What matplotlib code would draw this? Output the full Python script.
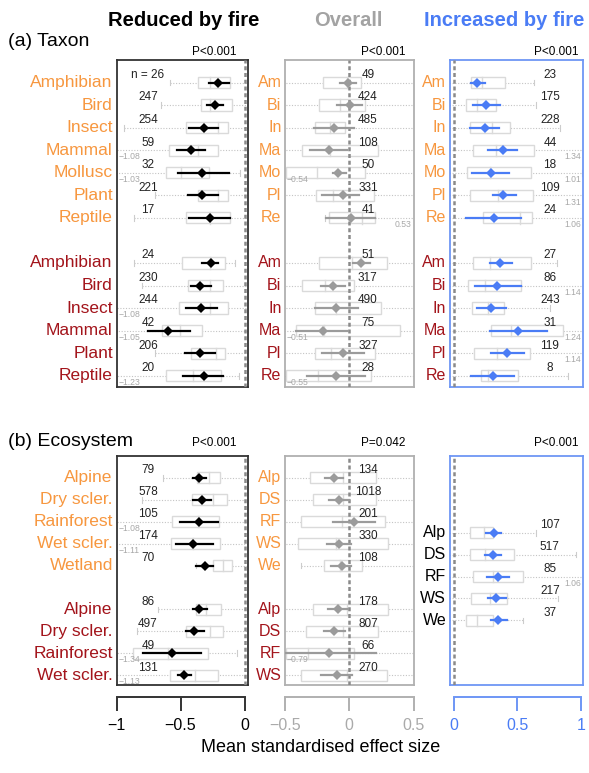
import matplotlib.pyplot as plt
from matplotlib.patches import Rectangle

plt.rcParams["font.family"] = ["Liberation Sans", "DejaVu Sans"]

W, H = 589, 773

# row labels
taxa = ["Amphibian", "Bird", "Insect", "Mammal", "Mollusc", "Plant", "Reptile",
        "Amphibian", "Bird", "Insect", "Mammal", "Plant", "Reptile"]
taxa_short = ["Am", "Bi", "In", "Ma", "Mo", "Pl", "Re",
              "Am", "Bi", "In", "Ma", "Pl", "Re"]
eco = ["Alpine", "Dry scler.", "Rainforest", "Wet scler.", "Wetland",
       "Alpine", "Dry scler.", "Rainforest", "Wet scler."]
eco_short = ["Alp", "DS", "RF", "WS", "We", "Alp", "DS", "RF", "WS"]
eco_short_inc = ["Alp", "DS", "RF", "WS", "We"]

# row positions (top to bottom)
taxa_y = [1, 2, 3, 4, 5, 6, 7, 9, 10, 11, 12, 13, 14]
eco_y = [1, 2, 3, 4, 5, 7, 8, 9, 10]
eco_inc_y = [3.5, 4.5, 5.5, 6.5, 7.5]
taxa_grp = [0] * 7 + [1] * 6
eco_grp = [0] * 5 + [1] * 4

# rows: (mean, ci_lo, ci_hi, q1, median, q3, whisker_lo, whisker_hi, n)
taxon_reduced = [
    (-0.21, -0.275, -0.12, -0.365, -0.27, -0.115, -0.58, 0.10, 26),
    (-0.23, -0.295, -0.17, -0.34, -0.27, -0.095, -0.65, 0.10, 247),
    (-0.32, -0.43, -0.205, -0.46, -0.21, -0.13, -0.94, 0.10, 254),
    (-0.42, -0.53, -0.31, -0.59, -0.36, -0.205, -1.08, 0.10, 59),
    (-0.33, -0.52, -0.125, -0.615, -0.50, -0.275, -1.03, -0.035, 32),
    (-0.33, -0.44, -0.21, -0.365, -0.21, -0.13, -0.70, 0.10, 221),
    (-0.27, -0.43, -0.11, -0.46, -0.27, -0.11, -0.86, 0.10, 17),
    (-0.265, -0.33, -0.205, -0.49, -0.27, -0.15, -0.86, -0.075, 24),
    (-0.35, -0.42, -0.265, -0.445, -0.27, -0.17, -0.80, 0.10, 230),
    (-0.34, -0.46, -0.215, -0.515, -0.27, -0.13, -1.08, 0.10, 244),
    (-0.595, -0.755, -0.425, -0.645, -0.505, -0.33, -1.05, 0.10, 42),
    (-0.35, -0.465, -0.23, -0.42, -0.225, -0.15, -0.70, 0.10, 206),
    (-0.32, -0.48, -0.165, -0.61, -0.405, -0.185, -1.23, -0.045, 20),
]
taxon_overall = [
    (-0.01, -0.075, 0.05, -0.205, -0.02, 0.095, -0.6, 0.6, 49),
    (0.003, -0.095, 0.10, -0.235, -0.075, 0.12, -0.6, 0.6, 424),
    (-0.12, -0.275, 0.04, -0.27, -0.15, -0.03, -0.6, 0.6, 485),
    (-0.16, -0.305, -0.015, -0.365, -0.15, 0.225, -0.6, 0.6, 108),
    (-0.09, -0.13, -0.025, -0.49, -0.25, 0.125, -0.54, 0.6, 50),
    (-0.05, -0.21, 0.075, -0.26, -0.13, 0.19, -0.6, 0.6, 331),
    (0.01, -0.18, 0.20, -0.16, 0.10, 0.20, -0.19, 0.53, 41),
    (0.09, 0.03, 0.16, -0.235, 0.025, 0.295, -0.6, 0.6, 51),
    (-0.13, -0.22, -0.035, -0.365, -0.185, 0.035, -0.6, 0.6, 317),
    (-0.10, -0.27, 0.07, -0.27, -0.10, 0.25, -0.6, 0.6, 490),
    (-0.205, -0.415, -0.01, -0.415, -0.20, 0.395, -0.51, 0.6, 75),
    (-0.05, -0.21, 0.115, -0.27, -0.14, 0.20, -0.6, 0.6, 327),
    (-0.10, -0.33, 0.12, -0.49, -0.24, 0.17, -0.55, 0.6, 28),
]
taxon_increased = [
    (0.185, 0.135, 0.245, 0.135, 0.22, 0.40, -0.1, 0.63, 23),
    (0.255, 0.15, 0.36, 0.095, 0.18, 0.33, -0.1, 0.645, 175),
    (0.245, 0.125, 0.355, 0.125, 0.30, 0.44, -0.1, 0.835, 228),
    (0.385, 0.265, 0.495, 0.15, 0.33, 0.63, -0.1, 1.34, 44),
    (0.29, 0.145, 0.435, 0.105, 0.285, 0.61, -0.1, 1.01, 18),
    (0.39, 0.31, 0.49, 0.125, 0.35, 0.62, -0.1, 1.31, 109),
    (0.315, 0.095, 0.53, 0.225, 0.52, 0.615, -0.1, 1.06, 24),
    (0.365, 0.28, 0.46, 0.15, 0.285, 0.605, -0.1, 0.81, 27),
    (0.34, 0.165, 0.53, 0.11, 0.245, 0.525, -0.1, 1.14, 86),
    (0.29, 0.18, 0.41, 0.145, 0.27, 0.395, -0.1, 0.76, 243),
    (0.505, 0.28, 0.735, 0.295, 0.45, 0.855, -0.1, 1.24, 31),
    (0.42, 0.29, 0.55, 0.155, 0.34, 0.595, -0.1, 1.14, 119),
    (0.305, 0.135, 0.475, 0.21, 0.27, 0.505, -0.1, 0.9, 8),
]
eco_reduced = [
    (-0.355, -0.40, -0.30, -0.375, -0.275, -0.195, -0.635, 0.10, 79),
    (-0.335, -0.405, -0.26, -0.41, -0.245, -0.14, -0.80, 0.10, 578),
    (-0.355, -0.505, -0.205, -0.565, -0.36, -0.20, -1.08, 0.10, 105),
    (-0.40, -0.535, -0.25, -0.575, -0.40, -0.19, -1.11, 0.10, 174),
    (-0.305, -0.38, -0.245, -0.245, -0.17, -0.095, -0.38, 0.10, 70),
    (-0.355, -0.405, -0.29, -0.38, -0.30, -0.185, -0.675, 0.10, 86),
    (-0.395, -0.455, -0.315, -0.46, -0.27, -0.17, -0.84, 0.10, 497),
    (-0.57, -0.79, -0.34, -0.87, -0.60, -0.285, -1.34, -0.06, 49),
    (-0.475, -0.52, -0.42, -0.585, -0.385, -0.21, -1.13, 0.10, 131),
]
eco_overall = [
    (-0.115, -0.185, -0.045, -0.305, -0.05, 0.21, -0.6, 0.6, 134),
    (-0.08, -0.16, 0.0, -0.28, -0.05, 0.21, -0.6, 0.6, 1018),
    (0.035, -0.13, 0.20, -0.375, -0.06, 0.28, -0.6, 0.6, 201),
    (-0.08, -0.17, 0.01, -0.395, -0.10, 0.305, -0.6, 0.6, 330),
    (-0.06, -0.14, 0.015, -0.20, -0.075, 0.10, -0.375, 0.6, 108),
    (-0.09, -0.165, -0.01, -0.28, -0.02, 0.305, -0.6, 0.6, 178),
    (-0.115, -0.195, -0.035, -0.335, -0.05, 0.225, -0.6, 0.6, 807),
    (-0.155, -0.55, 0.21, -0.49, -0.32, 0.04, -0.79, 0.6, 66),
    (-0.095, -0.22, 0.025, -0.375, -0.02, 0.29, -0.6, 0.6, 270),
]
eco_increased = [
    (0.315, 0.25, 0.37, 0.125, 0.235, 0.31, -0.1, 0.645, 107),
    (0.31, 0.245, 0.37, 0.13, 0.245, 0.475, -0.1, 0.96, 517),
    (0.345, 0.26, 0.435, 0.15, 0.31, 0.54, -0.1, 1.06, 85),
    (0.335, 0.27, 0.41, 0.135, 0.28, 0.415, -0.1, 0.82, 217),
    (0.35, 0.295, 0.415, 0.095, 0.18, 0.31, -0.1, 0.54, 37),
]

# values that fall outside the axis, printed at the panel edge
taxon_reduced_out = {3: "−1.08", 4: "−1.03", 9: "−1.08", 10: "−1.05", 12: "−1.23"}
taxon_overall_out = {4: "−0.54", 6: "0.53", 10: "−0.51", 12: "−0.55"}
taxon_increased_out = {3: "1.34", 4: "1.01", 5: "1.31", 6: "1.06",
                       8: "1.14", 10: "1.24", 11: "1.14"}
eco_reduced_out = {2: "−1.08", 3: "−1.11", 7: "−1.34", 8: "−1.13"}
eco_overall_out = {7: "−0.79"}
eco_increased_out = {2: "1.06"}

p_values = ["P<0.001", "P<0.001", "P<0.001", "P<0.001", "P=0.042", "P<0.001"]

# colours
orange = "#f7973f"
darkred = "#a3141b"
blue = "#4a7cf5"
gray = "#9b9b9b"
col_frame = ["#333333", "#b0b0b0", "#6e96f5"]
col_mark = ["black", gray, blue]
col_tick = ["black", "#aaaaaa", blue]

xlims = [(-1.0, 0.027), (-0.5, 0.5), (-0.031, 1.016)]
xticks = [[-1, -0.5, 0], [-0.5, 0, 0.5], [0, 0.5, 1]]
xticklabels = [["−1", "−0.5", "0"], ["−0.5", "0", "0.5"], ["0", "0.5", "1"]]
cols_px = [(116.5, 248), (285, 413.5), (450, 583)]
count_x = [-0.755, 0.145, 0.755]
p_x = [214, 383, 556]

fig = plt.figure(figsize=(W / 100, H / 100), dpi=100)


def px_axes(x0, y0, x1, y1):
    return fig.add_axes([x0 / W, 1 - y1 / H, (x1 - x0) / W, (y1 - y0) / H])


def draw_panel(ax, rows, ypos, j, out_labels, ylim):
    ax.set_xlim(*xlims[j])
    ax.set_ylim(*ylim)
    ax.set_xticks([])
    ax.set_yticks([])
    for sp in ax.spines.values():
        sp.set_color(col_frame[j])
        sp.set_linewidth(1.3)
    ax.axvline(0, color="#8a8a8a", ls=(0, (1.6, 1.1)), lw=1.8, zorder=3)
    for i, (y, r) in enumerate(zip(ypos, rows)):
        mean, lo, hi, q1, med, q3, wlo, whi, n = r
        # whiskers
        ax.plot([wlo, whi], [y, y], ls=(0, (1, 1.5)), color="#c4c4c4", lw=0.8, zorder=1)
        for w in (wlo, whi):
            ax.plot([w, w], [y - 0.13, y + 0.13], color="#cccccc", lw=0.8, zorder=1)
        # box
        ax.add_patch(Rectangle((q1, y - 0.25), q3 - q1, 0.5, fc="white",
                               ec="#dadada", lw=1.0, zorder=2))
        ax.plot([med, med], [y - 0.25, y + 0.25], color="#dadada", lw=1.0, zorder=2)
        # mean and CI
        ax.plot([lo, hi], [y, y], color=col_mark[j], lw=1.6, zorder=4)
        ax.plot([mean], [y], marker="D", ms=5.6, mew=0, color=col_mark[j], zorder=5)
        label = "n = %d" % n if (j == 0 and i == 0 and len(rows) == 13) else str(n)
        ax.text(count_x[j], y - 0.34, label, ha="center", va="center", fontsize=8.5,
                color="#222222", zorder=6)
        if i in out_labels:
            txt = out_labels[i]
            if txt.startswith("−"):
                ax.text(0.015, y + 0.3, txt, transform=ax.get_yaxis_transform(),
                        ha="left", va="center", fontsize=6.2, color="#a8a8a8")
            else:
                ax.text(0.985, y + 0.3, txt, transform=ax.get_yaxis_transform(),
                        ha="right", va="center", fontsize=6.2, color="#a8a8a8")


def row_labels(ax, labels, ypos, colors, size):
    for lab, y, c in zip(labels, ypos, colors):
        ax.text(-0.028, y, lab, transform=ax.get_yaxis_transform(), ha="right",
                va="center", fontsize=size, color=c)


grp_col = [orange, darkred]

# (a) Taxon
top = (60, 387)
panels_a = [taxon_reduced, taxon_overall, taxon_increased]
outs_a = [taxon_reduced_out, taxon_overall_out, taxon_increased_out]
for j in range(3):
    ax = px_axes(cols_px[j][0], top[0], cols_px[j][1], top[1])
    draw_panel(ax, panels_a[j], taxa_y, j, outs_a[j], (14.5, 0))
    colors = [grp_col[g] for g in taxa_grp]
    if j == 0:
        row_labels(ax, taxa, taxa_y, colors, 12.5)
    else:
        row_labels(ax, taxa_short, taxa_y, colors, 11.5)
    fig.text(p_x[j] / W, 1 - 52 / H, p_values[j], ha="center", va="center", fontsize=8.5)

# (b) Ecosystem
bot = (456, 685)
panels_b = [eco_reduced, eco_overall]
outs_b = [eco_reduced_out, eco_overall_out]
for j in range(3):
    ax = px_axes(cols_px[j][0], bot[0], cols_px[j][1], bot[1])
    if j < 2:
        draw_panel(ax, panels_b[j], eco_y, j, outs_b[j], (10.45, 0))
        colors = [grp_col[g] for g in eco_grp]
        row_labels(ax, eco if j == 0 else eco_short, eco_y, colors,
                   12.5 if j == 0 else 11.5)
    else:
        draw_panel(ax, eco_increased, eco_inc_y, j, eco_increased_out, (10.45, 0))
        row_labels(ax, eco_short_inc, eco_inc_y, ["black"] * 5, 11.5)
    fig.text(p_x[j] / W, 1 - 443 / H, p_values[3 + j], ha="center", va="center",
             fontsize=8.5)

    # bracket style x axis below the bottom panels
    bx = fig.add_axes([cols_px[j][0] / W, 1 - 697 / H,
                       (cols_px[j][1] - cols_px[j][0]) / W, 0.0001])
    bx.set_xlim(*xlims[j])
    for s in ("top", "left", "right"):
        bx.spines[s].set_visible(False)
    bx.spines["bottom"].set_color(col_frame[j])
    bx.spines["bottom"].set_linewidth(1.4)
    bx.spines["bottom"].set_bounds(xticks[j][0], xticks[j][-1])
    bx.set_yticks([])
    bx.set_xticks(xticks[j])
    bx.set_xticklabels(xticklabels[j], fontsize=11.5, color=col_tick[j])
    bx.tick_params(axis="x", direction="out", length=10, width=1.4,
                   color=col_frame[j], pad=5)
    bx.patch.set_visible(False)

# titles
fig.text(184 / W, 1 - 20 / H, "Reduced by fire", ha="center", va="center",
         fontsize=14.5, fontweight="bold", color="black")
fig.text(348 / W, 1 - 20 / H, "Overall", ha="center", va="center",
         fontsize=14.5, fontweight="bold", color="#a3a3a3")
fig.text(504 / W, 1 - 20 / H, "Increased by fire", ha="center", va="center",
         fontsize=14.5, fontweight="bold", color=blue)
fig.text(8 / W, 1 - 42 / H, "(a) Taxon", ha="left", va="center", fontsize=14)
fig.text(8 / W, 1 - 441 / H, "(b) Ecosystem", ha="left", va="center", fontsize=14)
fig.text(321 / W, 1 - 748 / H, "Mean standardised effect size", ha="center",
         va="center", fontsize=13)

fig.savefig("out.png", dpi=100)
